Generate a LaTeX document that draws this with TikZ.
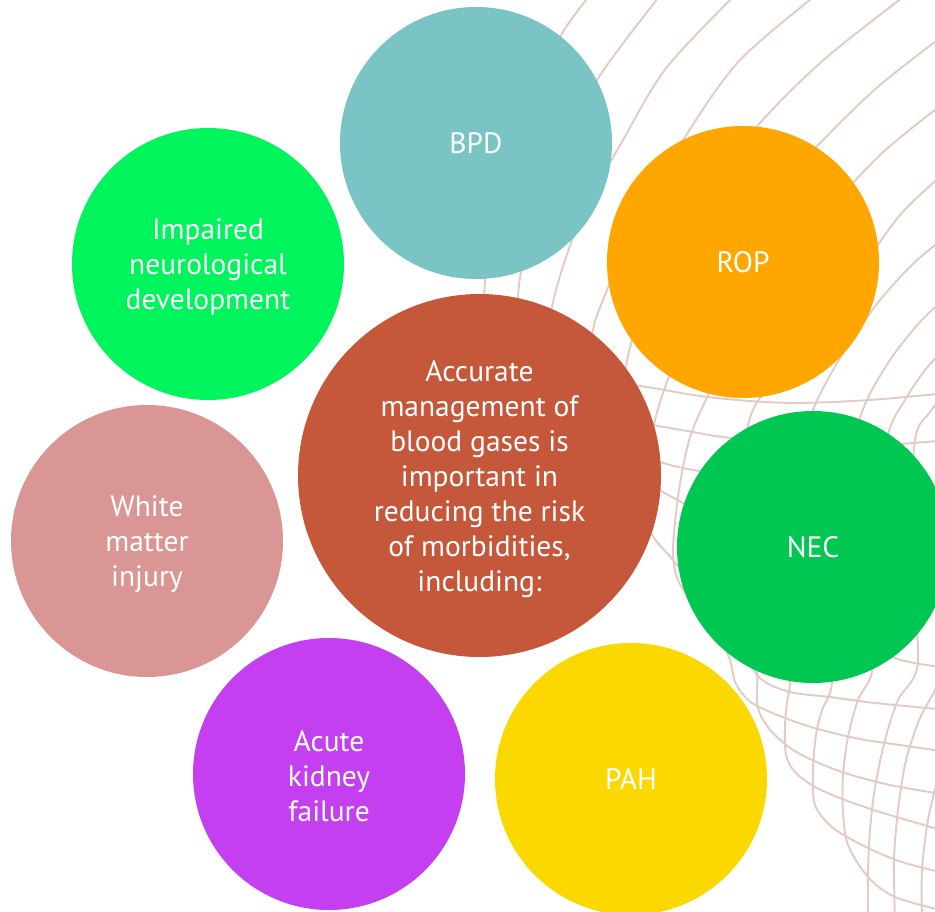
\documentclass[tikz,border=0pt]{standalone}
\usepackage{fontspec}
\setmainfont{PT Sans}
\definecolor{meshc}{HTML}{E3CBC3}
\definecolor{bpdc}{HTML}{7BC4C5}
\definecolor{neuroc}{HTML}{00F45C}
\definecolor{ropc}{HTML}{FFA600}
\definecolor{hubc}{HTML}{C5573B}
\definecolor{whitec}{HTML}{D99694}
\definecolor{necc}{HTML}{00C752}
\definecolor{kidneyc}{HTML}{C43FF0}
\definecolor{pahc}{HTML}{FBD900}
\begin{document}
\begin{tikzpicture}[x=1pt,y=-1pt,
  mesh/.style={draw=meshc, line width=1.9pt, line cap=round, line join=round},
  caption/.style={inner sep=0pt, text=white, align=center, font=\fontsize{29.5}{35}\selectfont},
  bubble/.style={circle, minimum size=272pt, inner sep=0pt, caption},
  hub/.style={bubble, minimum size=363pt}]
\useasboundingbox (0,0) rectangle (935,911);
\fill[white] (0,0) rectangle (935,911);

% curved net in the background
\begin{scope}
\clip (0,0) rectangle (935,911);
\draw[mesh] plot[smooth,tension=0.5] coordinates {(596,-12) (560,37) (518,130) (492,220) (484,300) (486,370)};
\draw[mesh] plot[smooth,tension=0.5] coordinates {(666,-12) (597,80) (553,170) (527,245) (518,300) (528,350) (570,378) (640,386) (700,396) (750,401) (800,403) (870,400) (948,393)};
\draw[mesh] plot[smooth,tension=0.5] coordinates {(742,-12) (667,67) (623,140) (582,215) (556,290) (550,340) (575,390) (620,418) (653,425) (693,432) (723,437) (800,444) (880,445) (948,440)};
\draw[mesh] plot[smooth,tension=0.5] coordinates {(825,-12) (740,60) (683,140) (637,220) (605,295) (593,330) (590,380) (605,430) (635,455) (660,462) (683,468) (760,482) (860,500) (948,515)};
\draw[mesh] plot[smooth,tension=0.5] coordinates {(915,-12) (827,57) (760,123) (698,205) (655,285) (633,337) (624,380) (622,430) (635,470) (660,490) (683,503) (730,530) (800,575) (860,630) (895,658) (948,668)};
\draw[mesh] plot[smooth,tension=0.5] coordinates {(948,32) (880,85) (823,140) (748,220) (696,300) (670,373) (655,420) (646,480) (650,530) (673,560) (705,600) (735,640) (760,678) (790,692) (830,697) (875,703) (948,710)};
\draw[mesh] plot[smooth,tension=0.5] coordinates {(948,100) (880,155) (812,230) (756,310) (722,365) (708,395) (690,437) (679,490) (673,547) (676,575) (685,592) (703,610) (720,638) (730,660) (736,684) (752,703) (785,718) (818,729) (860,739) (900,745) (948,752)};
\draw[mesh] plot[smooth,tension=0.5] coordinates {(948,170) (900,215) (850,285) (800,350) (760,398) (748,425) (738,480) (740,560) (750,630) (757,671) (757,703) (762,718) (772,732) (790,748) (812,760) (845,773) (890,785) (948,795)};
\draw[mesh] plot[smooth,tension=0.5] coordinates {(948,235) (915,262) (880,300) (845,350) (815,405) (795,470) (788,560) (790,640) (790,683) (787,703) (785,725) (786,755) (795,772) (815,787) (845,800) (880,812) (948,832)};
\draw[mesh] plot[smooth,tension=0.5] coordinates {(948,295) (920,322) (890,360) (862,412) (840,500) (833,600) (832,683) (822,710) (816,735) (813,770) (815,805) (833,828) (868,848) (902,862) (948,874)};
\draw[mesh] plot[smooth,tension=0.5] coordinates {(948,345) (925,370) (905,400) (888,435) (875,530) (872,620) (872,672) (858,700) (848,737) (843,775) (843,812) (848,845) (868,877) (895,897) (948,912)};
\draw[mesh] plot[smooth,tension=0.5] coordinates {(948,390) (930,412) (915,440) (910,550) (918,662) (898,700) (885,740) (875,787) (870,830) (868,870) (868,920)};
\draw[mesh] plot[smooth,tension=0.5] coordinates {(948,655) (935,690) (920,718) (906,760) (898,810) (894,860) (895,920)};
\draw[mesh] plot[smooth,tension=0.5] coordinates {(960,700) (940,770) (928,820) (922,870) (922,920)};
\end{scope}

% outcome bubbles with one-line labels
\node[bubble, fill=bpdc]    (bpd)    at (476,143) {BPD};
\node[bubble, fill=ropc]    (rop)    at (743,262) {ROP};
\node[bubble, fill=necc]    (nec)    at (813,547) {NEC};
\node[bubble, fill=pahc]    (pah)    at (631,779) {PAH};

% outcome bubbles with stacked labels
\node[bubble, fill=neuroc]  (neuro)  at (208,264) {};
\node[bubble, fill=whitec]  (wmi)    at (147,541) {};
\node[bubble, fill=kidneyc] (aki)    at (329,774) {};
\node[caption] (neuro-text) at ([yshift=-3.5pt]neuro.center) {Impaired\\neurological\\development};
\node[caption] (wmi-text)   at ([yshift=-3.5pt]wmi.center)   {White\\matter\\injury};
\node[caption] (aki-text)   at ([yshift=-2.5pt]aki.center)   {Acute\\kidney\\failure};

% central statement
\node[hub, fill=hubc] (hub) at (479.5,475.5) {};
\node[caption] (hub-text) at ([yshift=-3.5pt]hub.center) {Accurate\\management of\\blood gases is\\important in\\reducing the risk\\of morbidities,\\including:};
\end{tikzpicture}
\end{document}
